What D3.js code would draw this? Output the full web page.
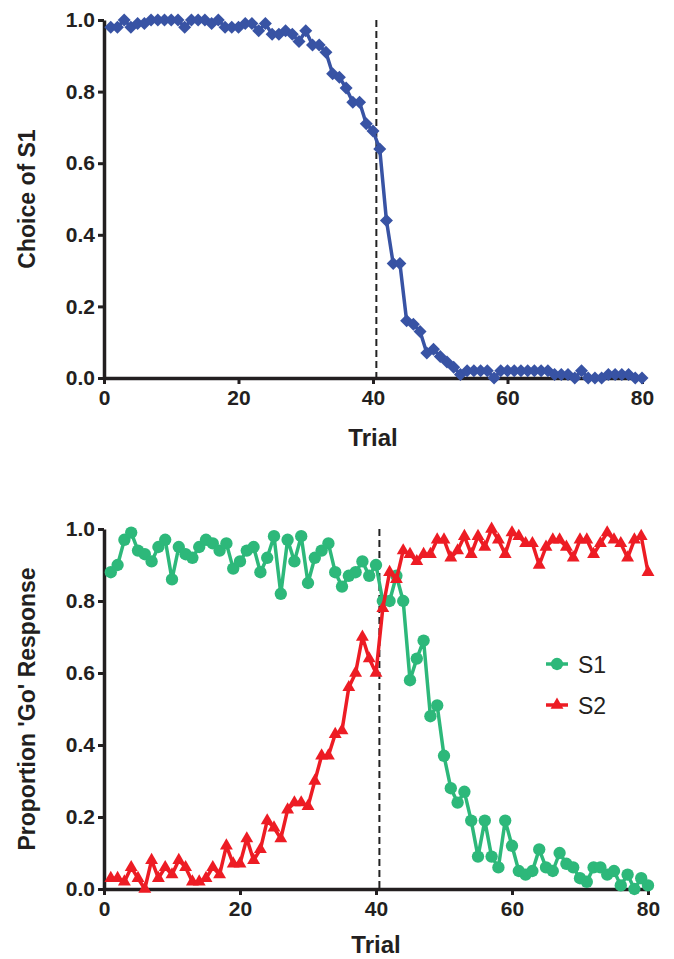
<!DOCTYPE html>
<html>
<head>
<meta charset="utf-8">
<script src="https://cdn.jsdelivr.net/npm/d3@7"></script>
<style>
  body { margin: 0; background: #fff; }
  svg { font-family: "Liberation Sans", Arial, sans-serif; }
</style>
</head>
<body>
<svg id="chart" width="674" height="959"></svg>
<script>
// trial numbers 1..80 and the three curves
const trials = d3.range(1, 81);

const choiceS1 = [
  0.98, 0.98, 1.0, 0.98, 0.99, 0.99, 1.0, 1.0, 1.0, 1.0,
  1.0, 0.98, 1.0, 1.0, 1.0, 0.99, 1.0, 0.98, 0.98, 0.98,
  0.99, 0.99, 0.97, 0.99, 0.96, 0.96, 0.97, 0.96, 0.94, 0.97,
  0.93, 0.93, 0.91, 0.85, 0.84, 0.81, 0.77, 0.77, 0.71, 0.69,
  0.64, 0.44, 0.32, 0.32, 0.16, 0.15, 0.13, 0.07, 0.08, 0.06,
  0.045, 0.03, 0.01, 0.02, 0.02, 0.02, 0.02, 0.0, 0.02, 0.02,
  0.02, 0.02, 0.02, 0.02, 0.02, 0.02, 0.01, 0.01, 0.01, 0.0,
  0.02, 0.0, 0.0, 0.0, 0.01, 0.01, 0.01, 0.01, 0.0, 0.0
];

const goS1 = [
  0.88, 0.90, 0.97, 0.99, 0.94, 0.93, 0.91, 0.95, 0.97, 0.86,
  0.95, 0.93, 0.92, 0.95, 0.97, 0.96, 0.94, 0.96, 0.89, 0.91,
  0.94, 0.95, 0.88, 0.92, 0.98, 0.82, 0.97, 0.91, 0.98, 0.85,
  0.92, 0.94, 0.96, 0.88, 0.84, 0.87, 0.88, 0.91, 0.87, 0.90,
  0.80, 0.80, 0.87, 0.80, 0.58, 0.64, 0.69, 0.48, 0.51, 0.37,
  0.28, 0.24, 0.27, 0.19, 0.09, 0.19, 0.09, 0.06, 0.19, 0.12,
  0.05, 0.04, 0.05, 0.11, 0.06, 0.05, 0.10, 0.07, 0.06, 0.03,
  0.02, 0.06, 0.06, 0.04, 0.05, 0.01, 0.04, 0.00, 0.03, 0.01
];

const goS2 = [
  0.03, 0.03, 0.02, 0.06, 0.03, 0.00, 0.08, 0.03, 0.06, 0.04,
  0.08, 0.06, 0.02, 0.02, 0.03, 0.06, 0.04, 0.12, 0.07, 0.07,
  0.14, 0.08, 0.11, 0.19, 0.17, 0.14, 0.22, 0.24, 0.24, 0.23,
  0.30, 0.37, 0.37, 0.43, 0.44, 0.56, 0.60, 0.70, 0.64, 0.60,
  0.78, 0.88, 0.86, 0.94, 0.93, 0.91, 0.93, 0.93, 0.97, 0.97,
  0.92, 0.94, 0.98, 0.93, 0.98, 0.95, 1.00, 0.97, 0.93, 0.99,
  0.98, 0.96, 0.96, 0.90, 0.95, 0.97, 0.97, 0.95, 0.92, 0.97,
  0.97, 0.93, 0.96, 0.99, 0.97, 0.96, 0.92, 0.97, 0.98, 0.88
];

const xTicks = [0, 20, 40, 60, 80];
const yTicks = [0, 0.2, 0.4, 0.6, 0.8, 1.0];
const reversalTrial = 40.5;
const legendLabels = ["S1", "S2"];

const svg = d3.select("#chart");

const blue = "#3853a4", green = "#2db87a", red = "#ed1c24";

const diamond = "M0,-6.5L6.5,0L0,6.5L-6.5,0Z";
const circle = d3.symbol(d3.symbolCircle, 120)();
const triangle = d3.symbol(d3.symbolTriangle, 72)();

function panel(cfg) {
  const x = d3.scaleLinear().domain([0, 80]).range([cfg.left, cfg.right]);
  const y = d3.scaleLinear().domain([0, 1]).range([cfg.bottom, cfg.top]);
  const g = svg.append("g");

  // reversal marker
  g.append("line")
      .attr("x1", x(reversalTrial)).attr("x2", x(reversalTrial))
      .attr("y1", y(1)).attr("y2", y(0))
      .attr("stroke", "#222").attr("stroke-width", 2)
      .attr("stroke-dasharray", "7,4");

  const xAxis = g.append("g")
      .attr("transform", `translate(0,${y(0)})`)
      .call(d3.axisBottom(x).tickValues(xTicks).tickSize(6).tickSizeOuter(0).tickPadding(6));
  const yAxis = g.append("g")
      .attr("transform", `translate(${x(0)},0)`)
      .call(d3.axisLeft(y).tickValues(yTicks).tickFormat(d3.format(".1f"))
        .tickSize(6).tickSizeOuter(0).tickPadding(3));

  [xAxis, yAxis].forEach(a => {
    a.select(".domain").attr("stroke", "#231f20").attr("stroke-width", 3.5);
    a.selectAll(".tick line").attr("stroke", "#231f20").attr("stroke-width", 3);
    a.selectAll(".tick text")
        .attr("fill", "#231f20")
        .style("font-size", "21px").style("font-weight", "bold")
        .style("font-family", "'Liberation Sans', Arial, sans-serif");
  });

  g.append("text")
      .attr("x", (cfg.left + cfg.right) / 2).attr("y", cfg.bottom + cfg.titleGap)
      .attr("text-anchor", "middle")
      .style("font-size", "24px").style("font-weight", "bold").attr("fill", "#231f20")
      .text("Trial");

  g.append("text")
      .attr("transform", `translate(35,${(cfg.top + cfg.bottom) / 2}) rotate(-90)`)
      .attr("text-anchor", "middle")
      .style("font-size", "23px").style("font-weight", "bold").attr("fill", "#231f20")
      .text(cfg.ylabel);

  cfg.series.forEach(s => {
    const pts = trials.map((t, i) => [t, s.values[i]]);
    g.append("path")
        .datum(pts)
        .attr("fill", "none").attr("stroke", s.color).attr("stroke-width", 3.5)
        .attr("stroke-linejoin", "round")
        .attr("d", d3.line().x(d => x(d[0])).y(d => y(d[1])));
    g.selectAll(null).data(pts).join("path")
        .attr("transform", d => `translate(${x(d[0])},${y(d[1])})`)
        .attr("d", s.marker)
        .attr("fill", s.color);
  });
  return {x, y, g};
}

panel({
  left: 104, right: 642, top: 20, bottom: 378, titleGap: 68,
  ylabel: "Choice of S1",
  series: [{values: choiceS1, color: blue, marker: diamond}]
});

const bottomPanel = panel({
  left: 104, right: 648, top: 529, bottom: 889, titleGap: 64,
  ylabel: "Proportion 'Go' Response",
  series: [
    {values: goS1, color: green, marker: circle},
    {values: goS2, color: red, marker: triangle}
  ]
});

// legend
const legendItems = [
  {label: legendLabels[0], color: green, marker: circle, y: 664},
  {label: legendLabels[1], color: red, marker: triangle, y: 705}
];
const legend = bottomPanel.g.append("g");
legend.selectAll("line").data(legendItems).join("line")
    .attr("x1", 546).attr("x2", 568)
    .attr("y1", d => d.y).attr("y2", d => d.y)
    .attr("stroke", d => d.color).attr("stroke-width", 3.5);
legend.selectAll("path").data(legendItems).join("path")
    .attr("transform", d => `translate(557,${d.y})`)
    .attr("d", d => d.marker)
    .attr("fill", d => d.color);
legend.selectAll("text").data(legendItems).join("text")
    .attr("x", 578).attr("y", d => d.y + 9)
    .style("font-size", "23px").attr("fill", "#231f20")
    .text(d => d.label);
</script>
</body>
</html>
